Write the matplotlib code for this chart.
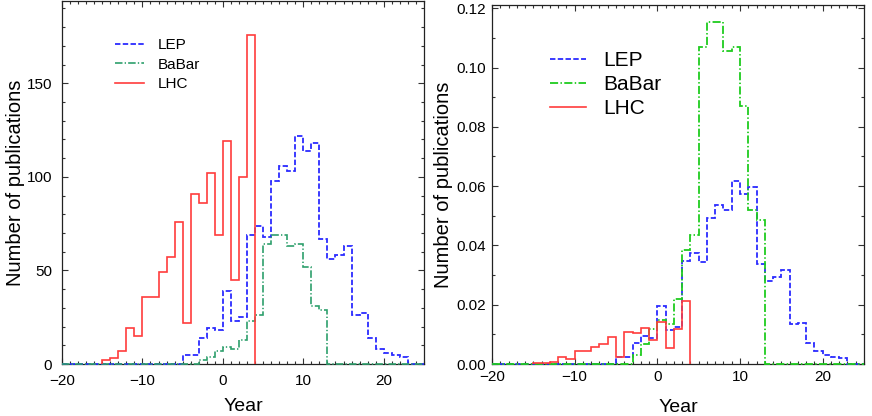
import numpy as np
import matplotlib
matplotlib.use("Agg")
import matplotlib.pyplot as plt
from matplotlib.ticker import MultipleLocator, FormatStrFormatter

plt.rcParams['font.family'] = ['Liberation Sans', 'DejaVu Sans']

# ----------------------------------------------------------
# Data: one-year bins
# ----------------------------------------------------------
year_edges = np.arange(-20, 26)

series = ["LEP", "BaBar", "LHC"]
first_year = {"LEP": -5, "BaBar": -3, "LHC": -15}

# left panel: number of publications per year
lep_counts = [5, 5, 14, 19, 18, 39, 23, 25, 69, 74, 68, 98, 106, 103, 122,
              114, 118, 67, 56, 58, 63, 26, 27, 14, 8, 6, 5, 4]
babar_counts = [2, 4, 7, 9, 8, 13, 23, 26, 64, 69, 69, 63, 64, 52, 31, 29]
lhc_counts = [2, 3, 7, 19, 15, 36, 36, 49, 57, 76, 22, 91, 86, 102, 69,
              119, 45, 100, 176]

# right panel: normalised distributions
lep_norm = [0.0025, 0.0025, 0.0070, 0.0093, 0.0089, 0.0197, 0.0115, 0.0126,
            0.0348, 0.0373, 0.0343, 0.0494, 0.0537, 0.0519, 0.0618, 0.0575,
            0.0596, 0.0337, 0.0281, 0.0294, 0.0317, 0.0135, 0.0137, 0.0071,
            0.0043, 0.0031, 0.0025, 0.0020]
babar_norm = [0.0030, 0.0066, 0.0117, 0.0150, 0.0136, 0.0220, 0.0385, 0.0435,
              0.1070, 0.1155, 0.1155, 0.1055, 0.1070, 0.0870, 0.0520, 0.0485]
lhc_norm = [0.0003, 0.0004, 0.0008, 0.0022, 0.0018, 0.0043, 0.0043, 0.0058,
            0.0068, 0.0091, 0.0025, 0.0108, 0.0104, 0.0122, 0.0082, 0.0143,
            0.0053, 0.0119, 0.0211]

# LEP and BaBar histograms run over the whole year range, LHC stops at its data
padded = {"LEP": True, "BaBar": True, "LHC": False}


def hist_bins(vals, start, pad):
    if not pad:
        edges = np.arange(start, start + len(vals) + 1)
        return np.asarray(vals, dtype=float), edges
    out = np.zeros(len(year_edges) - 1)
    i0 = start - year_edges[0]
    out[i0:i0 + len(vals)] = vals
    return out, year_edges


left_data = {"LEP": lep_counts, "BaBar": babar_counts, "LHC": lhc_counts}
right_data = {"LEP": lep_norm, "BaBar": babar_norm, "LHC": lhc_norm}

left_style = {
    "LEP": dict(color="#2b2bff", linestyle=(0, (3.0, 1.3)), linewidth=1.3),
    "BaBar": dict(color="#2e9f6c", linestyle=(0, (4.5, 1.3, 0.8, 1.3)), linewidth=1.2),
    "LHC": dict(color="#ff3c3c", linestyle="-", linewidth=1.2),
}
right_style = {
    "LEP": dict(color="#2b2bff", linestyle=(0, (3.0, 1.3)), linewidth=1.3),
    "BaBar": dict(color="#1fcc1f", linestyle=(0, (4.5, 1.3, 0.8, 1.3)), linewidth=1.3),
    "LHC": dict(color="#ff3c3c", linestyle="-", linewidth=1.2),
}

# ----------------------------------------------------------
# Figure
# ----------------------------------------------------------
fig = plt.figure(figsize=(8.72, 4.16), dpi=100)
ax1 = fig.add_axes([0.0711, 0.125, 0.4151, 0.8726])
ax2 = fig.add_axes([0.5642, 0.125, 0.4266, 0.863])

for name in series:
    v, e = hist_bins(left_data[name], first_year[name], padded[name])
    ax1.stairs(v, e, label=name, zorder=3, clip_on=False, **left_style[name])
    v, e = hist_bins(right_data[name], first_year[name], padded[name])
    ax2.stairs(v, e, label=name, zorder=3, clip_on=False, **right_style[name])

ax1.set_xlim(-20, 25)
ax1.set_ylim(0, 194)
ax2.set_xlim(-20, 25)
ax2.set_ylim(0, 0.1211)

ax1.yaxis.set_major_locator(MultipleLocator(50))
ax1.yaxis.set_minor_locator(MultipleLocator(10))
ax2.yaxis.set_major_locator(MultipleLocator(0.02))
ax2.yaxis.set_minor_locator(MultipleLocator(0.01))
ax2.yaxis.set_major_formatter(FormatStrFormatter('%.2f'))

for ax, pad in ((ax1, 7), (ax2, 4)):
    ax.xaxis.set_major_locator(MultipleLocator(10))
    ax.xaxis.set_minor_locator(MultipleLocator(1))
    ax.tick_params(which='both', direction='in', top=True, right=True,
                   color='#333333', width=0.8)
    ax.tick_params(which='major', length=4.5, labelsize=11, pad=pad)
    ax.tick_params(which='minor', length=2.5)
    for sp in ax.spines.values():
        sp.set_linewidth(0.9)
        sp.set_color('#222222')
    ax.set_xlabel("Year", fontsize=14)
    ax.set_ylabel("Number of publications", fontsize=14.5)

ax1.xaxis.set_label_coords(0.5, -0.093)
ax1.yaxis.set_label_coords(-0.102, 0.5)
ax2.xaxis.set_label_coords(0.5, -0.097)
ax2.yaxis.set_label_coords(-0.105, 0.5)

ax1.legend(loc='upper left', bbox_to_anchor=(0.146, 0.897), frameon=False,
           fontsize=11, handlelength=1.9, handletextpad=0.9,
           labelspacing=0.35, borderpad=0, borderaxespad=0)
ax2.legend(loc='upper left', bbox_to_anchor=(0.156, 0.872), frameon=False,
           fontsize=15, handlelength=1.75, handletextpad=0.8,
           labelspacing=0.25, borderpad=0, borderaxespad=0)

fig.savefig("out.png", dpi=100)
